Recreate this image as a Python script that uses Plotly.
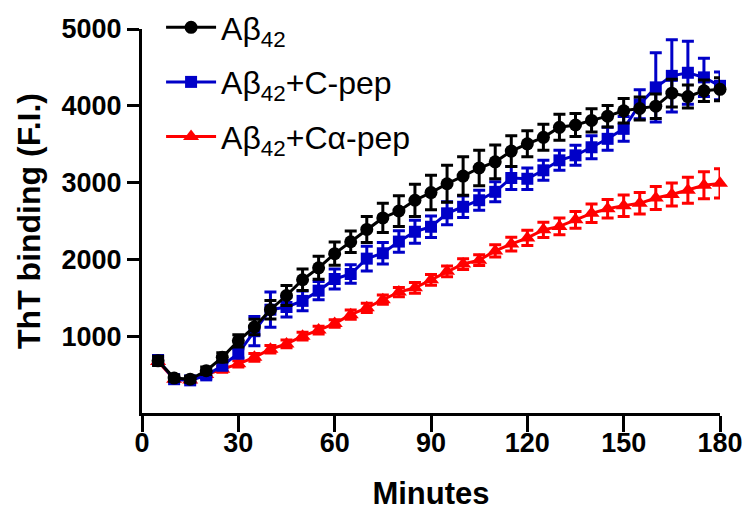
import plotly.graph_objects as go

minutes = [5, 10, 15, 20, 25, 30, 35, 40, 45, 50, 55, 60, 65, 70, 75, 80, 85, 90,
           95, 100, 105, 110, 115, 120, 125, 130, 135, 140, 145, 150, 155, 160, 165, 170, 175, 180]

abeta = [680, 455, 440, 550, 725, 940, 1120, 1345, 1530, 1735, 1890, 2075, 2230, 2390, 2540, 2630, 2770, 2870,
         2985, 3085, 3190, 3270, 3410, 3505, 3590, 3720, 3750, 3810, 3865, 3935, 3965, 3995, 4165, 4120, 4195, 4215]
abeta_err = [60, 40, 40, 50, 60, 80, 100, 120, 130, 140, 150, 150, 140, 170, 190, 200, 210, 225,
             240, 250, 230, 220, 200, 170, 170, 170, 150, 150, 140, 160, 150, 160, 180, 150, 140, 150]

cpep = [690, 440, 425, 490, 615, 775, 1065, 1345, 1380, 1460, 1593, 1745, 1810, 2010, 2080, 2232, 2360, 2425,
        2600, 2685, 2770, 2880, 3060, 3050, 3160, 3290, 3355, 3460, 3570, 3700, 4020, 4240, 4390, 4430, 4370, 4260]
cpep_err = [50, 30, 30, 40, 50, 60, 190, 230, 130, 130, 120, 130, 120, 160, 140, 140, 150, 140,
            150, 140, 130, 130, 150, 140, 130, 130, 130, 150, 150, 160, 190, 450, 470, 410, 250, 180]

capep = [670, 440, 430, 500, 570, 640, 725, 830, 900, 1000, 1080, 1165, 1280, 1370, 1475, 1575, 1630, 1735,
         1845, 1940, 1990, 2110, 2200, 2280, 2385, 2430, 2515, 2600, 2660, 2700, 2730, 2800, 2845, 2900, 2965, 2990]
capep_err = [40, 30, 30, 30, 40, 40, 50, 50, 50, 50, 50, 50, 60, 60, 60, 60, 70, 70,
             70, 70, 70, 80, 90, 100, 100, 110, 110, 120, 120, 140, 140, 150, 150, 170, 175, 190]

x_ticks = [0, 30, 60, 90, 120, 150, 180]
y_ticks = [1000, 2000, 3000, 4000, 5000]

series = [
    ("Aβ<sub>42</sub>+Cα-pep", capep, capep_err, "#FF0000", "triangle-up", 14, 3),
    ("Aβ<sub>42</sub>+C-pep", cpep, cpep_err, "#0000C8", "square", 12, 2),
    ("Aβ<sub>42</sub>", abeta, abeta_err, "#000000", "circle", 13, 1),
]

fig = go.Figure()
for name, vals, errs, color, sym, size, rank in series:
    fig.add_trace(go.Scatter(
        x=minutes, y=vals, name=name, mode="lines+markers",
        line=dict(color=color, width=3),
        marker=dict(symbol=sym, size=size, color=color),
        error_y=dict(type="data", array=errs, visible=True, color=color, thickness=3, width=6),
        cliponaxis=False, legendgroup=name, legendrank=rank,
    ))

font_fam = "Liberation Sans, Arial, sans-serif"
fig.update_layout(
    width=749, height=518,
    margin=dict(l=142, r=29, t=29, b=105, autoexpand=False),
    paper_bgcolor="white", plot_bgcolor="white",
    font=dict(family=font_fam, color="black"),
    legend=dict(x=0.033, y=1.023, xanchor="left", yanchor="top", yref="container",
                font=dict(size=32, family=font_fam, color="black"),
                itemwidth=50,
                bgcolor="rgba(0,0,0,0)", tracegroupgap=10),
    xaxis=dict(range=[0, 180], tickvals=x_ticks, showline=True, linecolor="black", linewidth=3,
               ticks="outside", ticklen=16, tickwidth=3, tickcolor="black", showgrid=False, zeroline=False,
               automargin=False, ticklabelstandoff=-12,
               tickfont=dict(size=27, weight="bold", family=font_fam),
               title=dict(text="Minutes", font=dict(size=31, weight="bold", family=font_fam), standoff=25)),
    yaxis=dict(range=[0, 5000], tickvals=y_ticks, showline=True, linecolor="black", linewidth=3,
               ticks="outside", ticklen=12, tickwidth=3, tickcolor="black", showgrid=False, zeroline=False,
               automargin=False,
               tickfont=dict(size=27, weight="bold", family=font_fam),
               title=dict(text="ThT binding (F.I.)", font=dict(size=32, weight="bold", family=font_fam), standoff=12)),
)

fig.write_html("out.html")
